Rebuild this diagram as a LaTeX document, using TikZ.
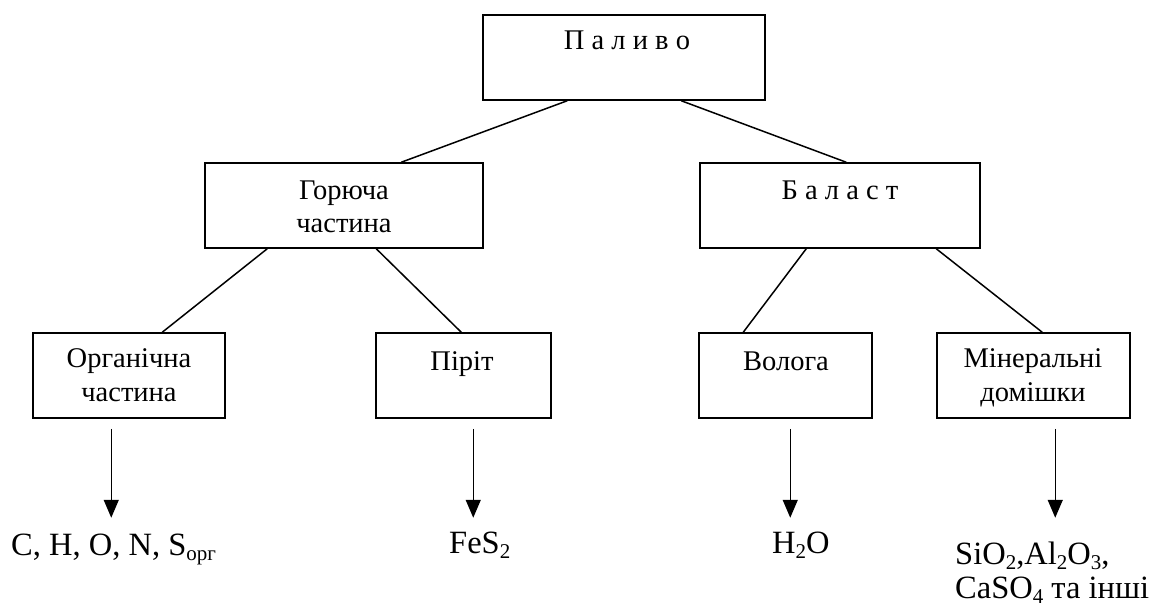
\documentclass[tikz,border=0pt]{standalone}
\usepackage{fontspec}
\setmainfont{Liberation Serif}
\usetikzlibrary{calc,arrows.meta}
\newcommand\lowsub[1]{\raisebox{-0.17em}{\fontsize{21}{21}\selectfont #1}}
\begin{document}
\begin{tikzpicture}[x=1pt,y=-1pt,
  box/.style={draw, line width=1.5pt, inner sep=0pt, minimum width=#1, minimum height=85pt},
  lbl/.style={inner sep=0pt, anchor=base, font=\fontsize{28.5}{32}\selectfont},
  res/.style={inner sep=0pt, anchor=base west, font=\fontsize{32.5}{34}\selectfont},
  link/.style={line width=1.5pt},
  arr/.style={line width=1.5pt, -{Triangle[width=15pt,length=18pt]}}]
\useasboundingbox (0,0) rectangle (1157,607);
% boxes
\node[box=282pt] (P)  at (624,57.5)   {};
\node[box=278pt] (G)  at (344,205.5)  {};
\node[box=280pt] (B)  at (840,205.5)  {};
\node[box=192pt] (O)  at (129,375.5)  {};
\node[box=175pt] (Pi) at (463.5,375.5) {};
\node[box=173pt] (V)  at (785.5,375.5) {};
\node[box=193pt] (M)  at (1033.5,375.5) {};
% labels
\node[lbl] (tP)  at (627,50)  {П а л и в о};
\node[lbl] (tG1) at (344,199) {Горюча};
\node[lbl] (tG2) at (344,233) {частина};
\node[lbl] (tB)  at (840,199) {Б а л а с т};
\node[lbl] (tO1) at (129,367) {Органічна};
\node[lbl] (tO2) at (129,401) {частина};
\node[lbl] (tPi) at (462,370) {Піріт};
\node[lbl] (tV)  at (786,370) {Волога};
\node[lbl] (tM1) at (1033,367) {Мінеральні};
\node[lbl] (tM2) at (1033,401) {домішки};
% results
\node[res] (rO)  at (11,555)  {C, H, O, N, S\lowsub{орг}};
\node[res] (rPi) at (449,553) {FeS\lowsub{2}};
\node[res] (rV)  at (772,553) {H\lowsub{2}O};
\node[res, align=left] (rM) at (955,598) {SiO\lowsub{2},Al\lowsub{2}O\lowsub{3},\\CaSO\lowsub{4} та інші};
% links
\draw[link] ($(P.south west)+(85,0)$)  -- ($(G.north west)+(197,0)$);
\draw[link] ($(P.south west)+(199,0)$) -- ($(B.north west)+(147,0)$);
\draw[link] ($(G.south west)+(63,0)$)  -- ($(O.north west)+(130,0)$);
\draw[link] ($(G.south west)+(172,0)$) -- ($(Pi.north west)+(86,0)$);
\draw[link] ($(B.south west)+(107,0)$) -- ($(V.north west)+(45,0)$);
\draw[link] ($(B.south west)+(237,0)$) -- ($(M.north west)+(106,0)$);
% arrows
\draw[arr] ($(O.south west)+(79,10)$)   -- ($(O.south west)+(79,99)$);
\draw[arr] ($(Pi.south west)+(98,10)$)  -- ($(Pi.south west)+(98,99)$);
\draw[arr] ($(V.south west)+(92,10)$)   -- ($(V.south west)+(92,99)$);
\draw[arr] ($(M.south west)+(119,10)$)  -- ($(M.south west)+(119,99)$);
\end{tikzpicture}
\end{document}
